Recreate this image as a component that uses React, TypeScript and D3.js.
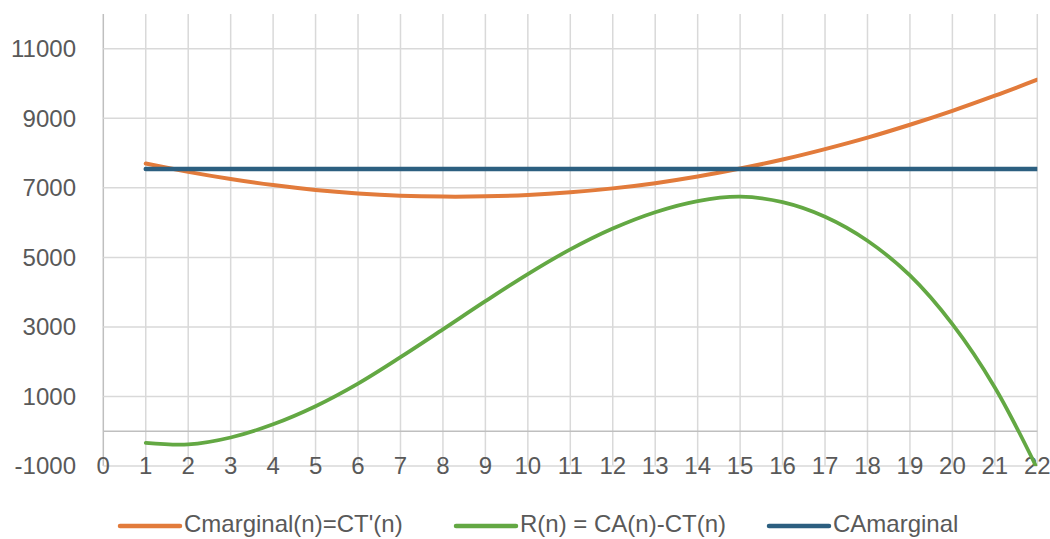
import React from "react";
import * as d3 from "d3";

const nValues = [1, 2, 3, 4, 5, 6, 7, 8, 9, 10, 11, 12, 13, 14, 15, 16, 17, 18, 19, 20, 21, 22];
const cMarginal = [7700, 7460, 7255, 7080, 6940, 6840, 6775, 6748, 6755, 6795, 6872, 6985, 7135, 7325, 7555, 7815, 8115, 8445, 8815, 9215, 9650, 10110];
const rProfit = [-335, -380, -180, 200, 720, 1370, 2130, 2930, 3740, 4520, 5230, 5830, 6300, 6620, 6746, 6590, 6170, 5480, 4480, 3080, 1260, -1080];
const caMarginal = [7540, 7540, 7540, 7540, 7540, 7540, 7540, 7540, 7540, 7540, 7540, 7540, 7540, 7540, 7540, 7540, 7540, 7540, 7540, 7540, 7540, 7540];
const xTicks = [0, 1, 2, 3, 4, 5, 6, 7, 8, 9, 10, 11, 12, 13, 14, 15, 16, 17, 18, 19, 20, 21, 22];
const yTicks = [-1000, 1000, 3000, 5000, 7000, 9000, 11000];
const seriesNames = ["Cmarginal(n)=CT'(n)", "R(n) = CA(n)-CT(n)", "CAmarginal"];
const seriesColors = ["#E27B3B", "#63A843", "#2C5F80"];

export default function App() {
  const W = 1050, H = 539;
  const x = d3.scaleLinear().domain([0, 22]).range([103.3, 1037.3]);
  const y = d3.scaleLinear().domain([-1000, 12000]).range([466, 14]);
  const font = "'Liberation Sans', Arial, sans-serif";
  const textColor = "#595959";

  const line = d3
    .line<[number, number]>()
    .x((d) => x(d[0]))
    .y((d) => y(d[1]))
    .curve(d3.curveCatmullRom.alpha(0.5));

  const series = [cMarginal, rProfit, caMarginal];
  const widths = [4, 3.75, 4.5];
  const drawOrder = [1, 0, 2];

  const legendX = [120, 456, 769];

  return (
    <svg width={W} height={H} style={{ position: "absolute", left: 0, top: 0, background: "#fff" }}>
      <defs>
        <clipPath id="plotClip">
          <rect x={x(0)} y={y(12000)} width={x(22) - x(0)} height={y(-1000) - y(12000)} />
        </clipPath>
      </defs>
      {/* vertical gridlines */}
      {xTicks.map((t) => (
        <line key={"vx" + t} x1={x(t)} x2={x(t)} y1={y(12000)} y2={y(-1000)}
          stroke={t === 0 ? "#BFBFBF" : "#D9D9D9"} strokeWidth={1.5} />
      ))}
      {/* horizontal gridlines */}
      {yTicks.map((t) => (
        <line key={"hy" + t} x1={x(0)} x2={x(22)} y1={y(t)} y2={y(t)} stroke="#D9D9D9" strokeWidth={1.5} />
      ))}
      {/* zero axis */}
      <line x1={x(0)} x2={x(22)} y1={y(0)} y2={y(0)} stroke="#BFBFBF" strokeWidth={1.5} />
      {/* y labels */}
      {yTicks.map((t) => (
        <text key={"yl" + t} x={76} y={y(t)} dy="0.35em" textAnchor="end"
          fontFamily={font} fontSize={24} fill={textColor}>{t}</text>
      ))}
      {/* x labels */}
      {xTicks.map((t) => (
        <text key={"xl" + t} x={x(t)} y={y(-1000)} dy="0.35em" textAnchor="middle"
          fontFamily={font} fontSize={24} fill={textColor}>{t}</text>
      ))}
      {/* series */}
      <g clipPath="url(#plotClip)">
        {drawOrder.map((i) => (
          <path key={"s" + i}
            d={line(nValues.map((n, j) => [n, series[i][j]] as [number, number])) || ""}
            fill="none" stroke={seriesColors[i]} strokeWidth={widths[i]} strokeLinecap="round" strokeLinejoin="round" />
        ))}
      </g>
      {/* legend */}
      {seriesNames.map((name, i) => (
        <g key={"lg" + i}>
          <line x1={legendX[i]} x2={legendX[i] + 60} y1={526} y2={526} stroke={seriesColors[i]} strokeWidth={4.5} strokeLinecap="round" />
          <text x={legendX[i] + 64} y={524} dy="0.35em" fontFamily={font} fontSize={24} fill={textColor}>{name}</text>
        </g>
      ))}
    </svg>
  );
}
